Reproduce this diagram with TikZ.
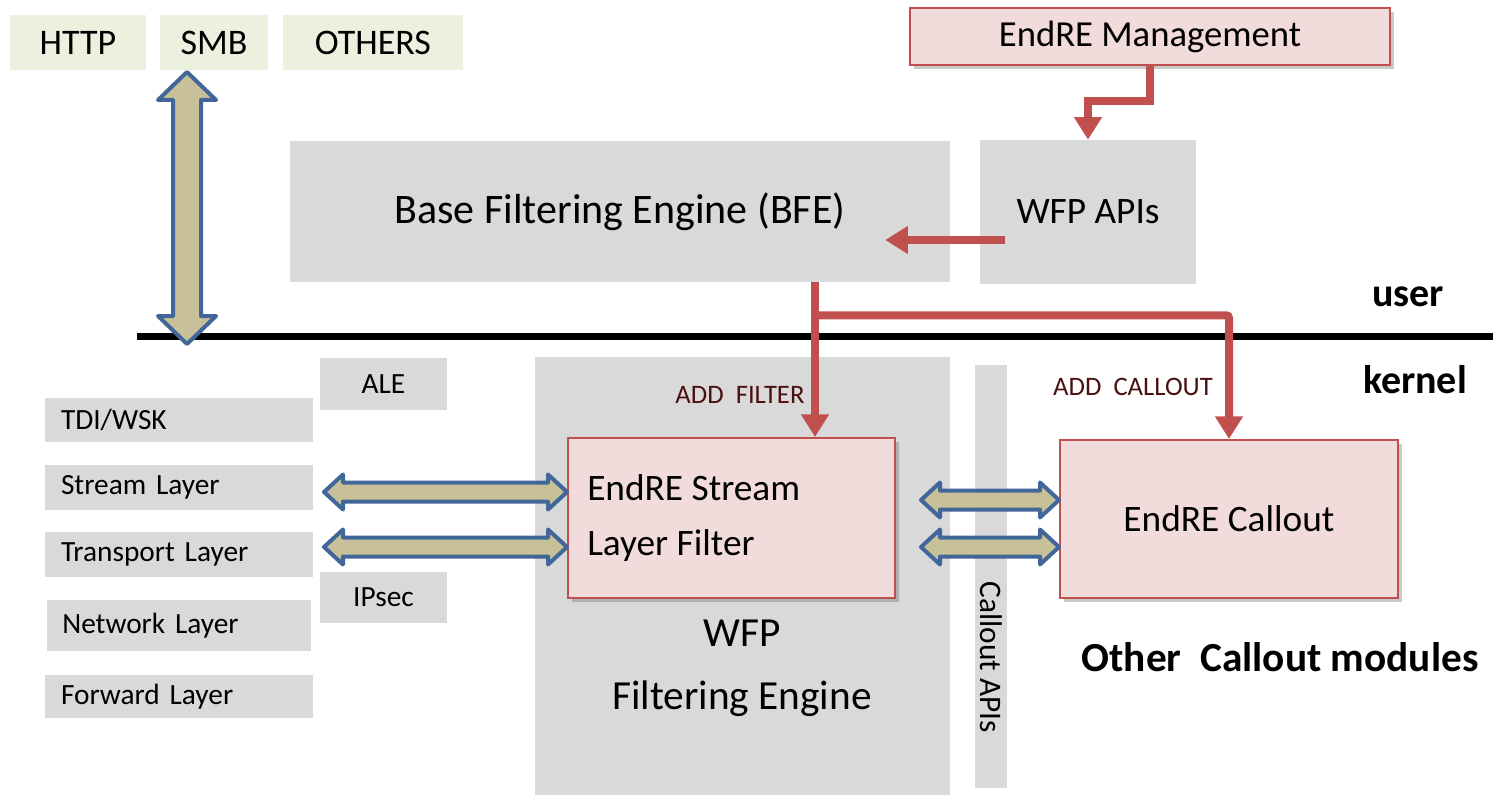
\documentclass[tikz,border=0pt]{standalone}
\usepackage{fontspec}
\setmainfont{Carlito}
\usetikzlibrary{arrows.meta,calc,shadows}
\definecolor{grayfill}{HTML}{D9D9D9}
\definecolor{greenfill}{HTML}{EBF1DE}
\definecolor{pinkfill}{HTML}{F2DCDB}
\definecolor{redline}{HTML}{C0504D}
\definecolor{arrowfill}{HTML}{C8C098}
\definecolor{arrowblue}{HTML}{41679A}
\definecolor{labelred}{HTML}{4A1010}
% horizontal fat double arrow: #1 left tip, #2 right tip, #3 shaft half, #4 head half, #5 head length
\newcommand{\fatH}[5]{%
  \draw[fatstyle] (#1) -- ($(#1)+(#5,-#4)$) -- ($(#1)+(#5,-#3)$) -- ($(#2)+(-#5,-#3)$) -- ($(#2)+(-#5,-#4)$) -- (#2)
    -- ($(#2)+(-#5,#4)$) -- ($(#2)+(-#5,#3)$) -- ($(#1)+(#5,#3)$) -- ($(#1)+(#5,#4)$) -- cycle;}
% vertical fat double arrow: #1 top tip, #2 bottom tip
\newcommand{\fatV}[5]{%
  \draw[fatstyle] (#1) -- ($(#1)+(-#4,#5)$) -- ($(#1)+(-#3,#5)$) -- ($(#2)+(-#3,-#5)$) -- ($(#2)+(-#4,-#5)$) -- (#2)
    -- ($(#2)+(#4,-#5)$) -- ($(#2)+(#3,-#5)$) -- ($(#1)+(#3,#5)$) -- ($(#1)+(#4,#5)$) -- cycle;}
\begin{document}
\begin{tikzpicture}[x=0.75pt,y=-0.75pt,
  greybox/.style={fill=grayfill, draw=none, inner sep=0pt},
  protobox/.style={fill=greenfill, draw=none, inner sep=0pt, minimum height=41.25pt, font=\fontsize{27}{32}\selectfont},
  pinkbox/.style={fill=pinkfill, draw=redline, line width=1.5pt, inner sep=0pt,
     drop shadow={opacity=0.35, shadow xshift=3pt, shadow yshift=-3pt, fill=black!60}},
  layerbox/.style={greybox, minimum width=201pt, text width=177pt, align=left, font=\fontsize{22}{26}\selectfont},
  fatstyle/.style={fill=arrowfill, draw=arrowblue, line width=3pt, line join=round},
  redarrow/.style={draw=redline, line width=6pt, -{Triangle[width=20pt,length=17pt]}},
  redlabel/.style={text=labelred, font=\fontsize{20}{24}\selectfont},
  sidelabel/.style={font=\bfseries\fontsize{30}{34}\selectfont},
  ]
\useasboundingbox (0,0) rectangle (1493,795);

% protocol boxes
\node[protobox, minimum width=102pt] (http) at (78,42.5) {HTTP};
\node[protobox, minimum width=81pt] (smb) at (214,42.5) {SMB};
\node[protobox, minimum width=135pt] (others) at (373,42.5) {OTHERS};

% management
\node[pinkbox, minimum width=360pt, minimum height=42.75pt, font=\fontsize{27.5}{32}\selectfont] (mgmt) at (1150,36.5) {EndRE Management};

% user mode boxes
\node[greybox, minimum width=495pt, minimum height=105.75pt, font=\fontsize{31.5}{36}\selectfont] (bfe) at (620,211.5) {Base Filtering Engine (BFE)};
\node[greybox, minimum width=162pt, minimum height=108pt, font=\fontsize{28}{32}\selectfont] (wfpapi) at (1088,212) {WFP APIs};

% user/kernel divider
\coordinate (lineL) at (137,336);
\coordinate (lineR) at (1493,336);
\draw[line width=5.25pt] (lineL) -- (lineR);
\node[sidelabel] (user) at (1408,297) {user};
\node[sidelabel] (kernel) at (1415,380) {kernel};

% kernel boxes
\node[greybox, minimum width=311.25pt, minimum height=328.5pt] (wfpeng) at (742.5,576) {};
\node[align=center, font=\fontsize{31}{47}\selectfont] (wfplbl) at (742,668) {WFP\\Filtering Engine};
\node[greybox, minimum width=24pt, minimum height=317.25pt] (capi) at (991,576.5) {};
\node[rotate=-90, font=\fontsize{23.5}{28}\selectfont] (capilbl) at (991,657) {Callout APIs};

\node[pinkbox, minimum width=245.25pt, minimum height=120pt] (filt) at (731.5,518) {};
\node[anchor=west, inner sep=0pt, align=left, font=\fontsize{28}{41}\selectfont] (filtlbl) at (587,518) {EndRE Stream\\Layer Filter};
\node[pinkbox, minimum width=253.5pt, minimum height=118.5pt, font=\fontsize{28}{32}\selectfont] (callout) at (1229,519) {EndRE Callout};
\node[font=\bfseries\fontsize{31}{36}\selectfont] (othermod) at (1280,657) {Other\ \ Callout modules};

% layer boxes
\node[layerbox, minimum height=33pt] (tdi) at (179,420) {TDI/WSK};
\node[layerbox, minimum height=33.75pt] (streaml) at (179,487.5) {Stream Layer};
\node[layerbox, minimum height=33.75pt] (transl) at (179,554.5) {Transport Layer};
\node[layerbox, minimum width=198pt, text width=175pt, minimum height=38.25pt] (netl) at (179,625.5) {Network Layer};
\node[layerbox, minimum height=32.25pt] (fwdl) at (179,696.5) {Forward Layer};
\node[greybox, minimum width=95.25pt, minimum height=39pt, font=\fontsize{22}{26}\selectfont] (ale) at (383.5,384) {ALE};
\node[greybox, minimum width=95.25pt, minimum height=38.25pt, font=\fontsize{22}{26}\selectfont] (ipsec) at (383.5,597.5) {IPsec};

% labels
\node[redlabel] (addfilter) at (740,395) {ADD\ \ FILTER};
\node[redlabel] (addcallout) at (1133,387) {ADD\ \ CALLOUT};

% fat double arrows
\coordinate (va1) at (187,72);
\coordinate (va2) at (187,344);
\fatV{va1}{va2}{14}{29}{28}
\coordinate (la1) at (324,492);
\coordinate (la1e) at (filt.west |- la1);
\fatH{la1}{la1e}{9.5}{17.5}{19}
\coordinate (la2) at (324,547);
\coordinate (la2e) at (filt.west |- la2);
\fatH{la2}{la2e}{9.5}{17.5}{19}
\coordinate (ra1) at (921,500);
\coordinate (ra1e) at (callout.west |- ra1);
\fatH{ra1}{ra1e}{9.5}{17.5}{19}
\coordinate (ra2) at (921,547);
\coordinate (ra2e) at (callout.west |- ra2);
\fatH{ra2}{ra2e}{9.5}{17.5}{19}

% red connectors
\draw[redarrow] (mgmt.south) -- ++(0,35) -| (wfpapi.north);
\coordinate (apiout) at ($(wfpapi.west)+(25,28)$);
\coordinate (bfein) at ($(bfe.east)+(-65,28)$);
\draw[redarrow] (apiout) -- (bfein |- apiout);
\coordinate (filtin) at ($(filt.north)+(83.5,0)$);
\coordinate (branch) at (bfe.south -| filtin);
\draw[redarrow] (branch) -- (filtin);
\coordinate (split) at ($(branch)+(0,33)$);
\draw[redarrow, rounded corners=2pt] (split) -| (callout.north);
\end{tikzpicture}
\end{document}
